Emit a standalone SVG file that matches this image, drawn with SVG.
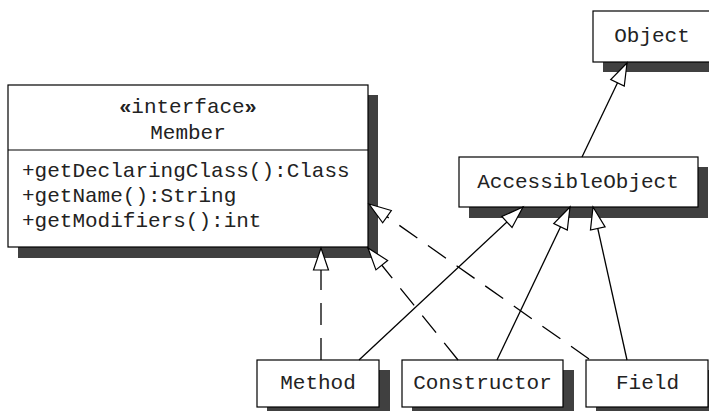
<svg xmlns="http://www.w3.org/2000/svg" width="709" height="411" viewBox="0 0 709 411">
  <defs>
    <style>
      .shadow { fill: #404040; stroke: none; }
      .box { fill: #ffffff; stroke: #000000; stroke-width: 1.2; }
      .txt { font-family: "Liberation Mono", "Courier New", monospace; font-size: 21px; fill: #222222; }
      .mid { text-anchor: middle; }
      .line { fill: none; stroke: #000000; stroke-width: 1.3; }
      .dash { stroke-dasharray: 22 13; }
      .guil { font-family: "Liberation Sans", Arial, sans-serif; font-weight: bold; }
    </style>
    <marker id="tri" markerUnits="userSpaceOnUse" markerWidth="30" markerHeight="20" viewBox="-24 -10 26 20" refX="0" refY="0" orient="auto" overflow="visible">
      <path d="M0,0 L-22,-7.5 L-22,7.5 Z" fill="#ffffff" stroke="#000000" stroke-width="1.2" stroke-dasharray="none"/>
    </marker>
  </defs>
  <rect width="709" height="411" fill="#ffffff"/>

  <g id="member">
    <rect class="shadow" x="18" y="95" width="360" height="163"/>
    <rect class="box" x="8" y="85" width="360" height="162"/>
    <line x1="8" y1="150" x2="368" y2="150" stroke="#000" stroke-width="1.2"/>
    <text class="txt mid" x="188" y="113"><tspan class="guil">«</tspan>interface<tspan class="guil">»</tspan></text>
    <text class="txt mid" x="188" y="139">Member</text>
    <text class="txt" x="22" y="177">+getDeclaringClass():Class</text>
    <text class="txt" x="22" y="201.5">+getName():String</text>
    <text class="txt" x="22" y="226.5">+getModifiers():int</text>
  </g>

  <g id="object">
    <rect class="shadow" x="603" y="21" width="120" height="51"/>
    <rect class="box" x="593" y="11" width="120" height="51"/>
    <text class="txt mid" x="652" y="42">Object</text>
  </g>

  <g id="accessibleobject">
    <rect class="shadow" x="469" y="167" width="239" height="51"/>
    <rect class="box" x="459" y="157" width="239" height="50"/>
    <text class="txt mid" x="578" y="188">AccessibleObject</text>
  </g>

  <g id="method">
    <rect class="shadow" x="267" y="370" width="123" height="48"/>
    <rect class="box" x="257" y="360" width="122" height="47"/>
    <text class="txt mid" x="318" y="389">Method</text>
  </g>

  <g id="constructor">
    <rect class="shadow" x="412" y="370" width="162" height="48"/>
    <rect class="box" x="402" y="360" width="161" height="47"/>
    <text class="txt mid" x="482.5" y="389">Constructor</text>
  </g>

  <g id="field">
    <rect class="shadow" x="596" y="370" width="122" height="48"/>
    <rect class="box" x="586" y="360" width="122" height="47"/>
    <text class="txt mid" x="647.5" y="389">Field</text>
  </g>

  <g id="connectors">
    <line class="line" x1="582" y1="157" x2="627" y2="63" marker-end="url(#tri)"/>
    <line class="line" x1="359" y1="360" x2="523" y2="207" marker-end="url(#tri)"/>
    <line class="line" x1="497" y1="360" x2="570" y2="207" marker-end="url(#tri)"/>
    <line class="line" x1="627" y1="360" x2="593" y2="207" marker-end="url(#tri)"/>
    <line class="line dash" x1="321" y1="360" x2="321" y2="248" marker-end="url(#tri)"/>
    <line class="line dash" x1="458" y1="360" x2="368" y2="248" marker-end="url(#tri)"/>
    <line class="line dash" x1="589" y1="359" x2="369" y2="204" marker-end="url(#tri)"/>
  </g>
</svg>
